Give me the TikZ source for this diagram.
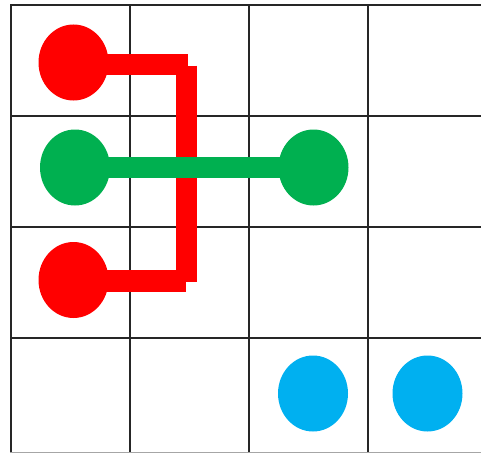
\documentclass[tikz,border=0pt]{standalone}
\usetikzlibrary{shapes.geometric,backgrounds}
\definecolor{dotred}{HTML}{FF0000}
\definecolor{dotgreen}{HTML}{00B050}
\definecolor{dotblue}{HTML}{00B0F0}
\tikzset{
  dot/.style={ellipse, inner sep=0pt, minimum width=70pt, minimum height=76pt},
  gridline/.style={line width=1.8pt, draw=black!85},
  link/.style={line width=21.5pt, line cap=butt},
}
\begin{document}
\begin{tikzpicture}[x=1pt,y=-1pt]
  \useasboundingbox (0,0) rectangle (481,452);
  % coloured dots
  \node[dot, fill=dotred]   (r1) at (73.5,62.5)  {};
  \node[dot, fill=dotred]   (r2) at (73.5,280)   {};
  \node[dot, fill=dotgreen] (g1) at (75,167.5)   {};
  \node[dot, fill=dotgreen] (g2) at (313.5,167.5){};
  \node[dot, fill=dotblue]  (b1) at (313,393.5)  {};
  \node[dot, fill=dotblue]  (b2) at (427.5,393.5){};
  % corner points of the red bracket
  \coordinate (rt) at (188,64.5);
  \coordinate (rvt) at (186.5,65.5);
  \coordinate (rvb) at (186.5,282);
  \coordinate (rb) at (186,281);
  \begin{scope}[on background layer]
    % grid
    \foreach \x in {11,130,249,368}
      \draw[gridline] (\x,4.5) -- (\x,452);
    \foreach \y in {5,116,227,338}
      \draw[gridline] (10,\y) -- (481,\y);
    \draw[gridline, draw=black!35] (10,452.4) -- (481,452.4);
    % red bracket joining the two red dots
    \draw[link, dotred] (r1.center |- rt) -- (rt);
    \draw[link, dotred] (rvt) -- (rvb);
    \draw[link, dotred] (r2.center |- rb) -- (rb);
    % green bar joining the two green dots
    \draw[link, dotgreen] (g1.center) -- (g2.center);
  \end{scope}
\end{tikzpicture}
\end{document}
